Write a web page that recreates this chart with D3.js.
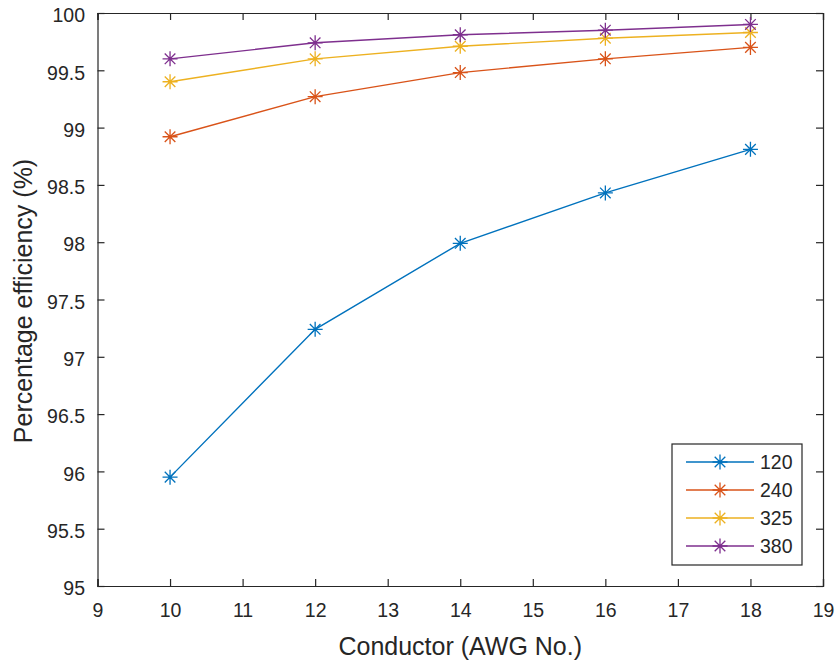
<!DOCTYPE html>
<html><head><meta charset="utf-8">
<script src="https://cdn.jsdelivr.net/npm/d3@7"></script>
<style>body{margin:0;background:#fff}svg{display:block}text{font-family:"Liberation Sans",Arial,sans-serif;fill:#262626}</style>
</head><body><svg id="c" width="837" height="664"></svg>
<script>
const awg = [10, 12, 14, 16, 18];
const seriesNames = ["120", "240", "325", "380"];
const eff120 = [95.95, 97.24, 97.99, 98.43, 98.81];
const eff240 = [98.92, 99.27, 99.48, 99.60, 99.70];
const eff325 = [99.40, 99.60, 99.71, 99.78, 99.83];
const eff380 = [99.60, 99.74, 99.81, 99.85, 99.90];
const colors = ["#0072BD", "#D95319", "#EDB120", "#7E2F8E"];
const xTicks = [9,10,11,12,13,14,15,16,17,18,19];
const yTicks = [95,95.5,96,96.5,97,97.5,98,98.5,99,99.5,100];
const series = [eff120, eff240, eff325, eff380];

const svg = d3.select("#c");
const L = 97.5, R = 823, T = 13, B = 586;
const x = d3.scaleLinear().domain([9,19]).range([L,R]);
const y = d3.scaleLinear().domain([95,100]).range([B,T]);
const fs = 19.5;
const axCol = "#262626";

const g = svg.append("g");
const ax = g.append("g").attr("transform",`translate(0,${B})`).call(d3.axisBottom(x).tickValues(xTicks).tickSize(-7).tickPadding(17).tickFormat(d3.format("d")));
const axT = g.append("g").attr("transform",`translate(0,${T})`).call(d3.axisTop(x).tickValues(xTicks).tickSize(-7).tickFormat(""));
const ay = g.append("g").attr("transform",`translate(${L},0)`).call(d3.axisLeft(y).tickValues(yTicks).tickSize(-7).tickPadding(12.5).tickFormat(d=>d3.format("")(d)));
const ayR = g.append("g").attr("transform",`translate(${R},0)`).call(d3.axisRight(y).tickValues(yTicks).tickSize(-7).tickFormat(""));
[ax,axT,ay,ayR].forEach(a=>{
  a.select(".domain").attr("stroke",axCol).attr("stroke-width",1.2);
  a.selectAll(".tick line").attr("stroke",axCol).attr("stroke-width",1.2);
  a.selectAll(".tick text").attr("font-size",fs).attr("fill",axCol).style("font-family","Liberation Sans, Arial, sans-serif");
});
ay.selectAll(".tick text").attr("dy","0.45em");

const line = d3.line().x((d,i)=>x(awg[i])).y(d=>y(d));
function star(gr, cx, cy, r, col){
  const p = [];
  for(let k=0;k<4;k++){
    const a = k*Math.PI/4;
    p.push(`M${cx-r*Math.cos(a)},${cy-r*Math.sin(a)}L${cx+r*Math.cos(a)},${cy+r*Math.sin(a)}`);
  }
  gr.append("path").attr("d",p.join("")).attr("stroke",col).attr("stroke-width",1.3).attr("fill","none");
}
series.forEach((s,si)=>{
  g.append("path").datum(s).attr("d",line).attr("fill","none").attr("stroke",colors[si]).attr("stroke-width",1.4);
  s.forEach((v,i)=>star(g, x(awg[i]), y(v), 7.5, colors[si]));
});

svg.append("text").attr("x",(L+R)/2).attr("y",655).attr("text-anchor","middle").attr("font-size",25).text("Conductor (AWG No.)");
svg.append("text").attr("transform",`translate(32,301) rotate(-90)`).attr("text-anchor","middle").attr("font-size",25).text("Percentage efficiency (%)");

const lg = svg.append("g");
lg.append("rect").attr("x",672).attr("y",444).attr("width",130).attr("height",121).attr("fill","#fff").attr("stroke",axCol).attr("stroke-width",1.2);
seriesNames.forEach((n,i)=>{
  const yy = 462 + i*28;
  lg.append("line").attr("x1",686).attr("x2",754).attr("y1",yy).attr("y2",yy).attr("stroke",colors[i]).attr("stroke-width",1.4);
  star(lg, 720, yy, 7.5, colors[i]);
  lg.append("text").attr("x",760).attr("y",yy).attr("dy","0.37em").attr("font-size",fs).text(n);
});
</script></body></html>
